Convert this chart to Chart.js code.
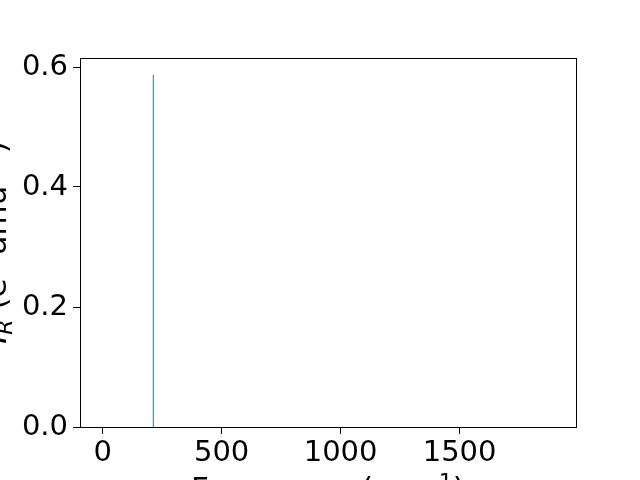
<!DOCTYPE html>
<html>
<head>
<meta charset="utf-8">
<script src="https://cdn.jsdelivr.net/npm/chart.js@4/dist/chart.umd.min.js"></script>
<style>
  html, body { margin: 0; padding: 0; background: #fff; }
  #wrap { width: 640px; height: 480px; }
</style>
</head>
<body>
<div id="wrap"><canvas id="irChart" width="640" height="480"></canvas></div>
<script>
// IR spectrum - a single active mode
const frequencies = [213];      // cm^-1
const intensities = [0.587];    // e^2 amu^-1

const xTickValues = [0, 500, 1000, 1500];
const yTickValues = [0.0, 0.2, 0.4, 0.6];
const xRange = [-95, 1989];
const yRange = [0, 0.615];

const FONT = '"DejaVu Sans", sans-serif';
const lineColor = '#1f77b4';

// each mode drawn as a stem from 0 up to its intensity
const stems = [];
frequencies.forEach((f, i) => {
  stems.push({ x: f, y: 0 });
  stems.push({ x: f, y: intensities[i] });
  stems.push({ x: f, y: null });
});

// draw a label made of pieces (italic, sub/superscript)
function drawRich(ctx, parts, cx, baseY) {
  const setFont = p => {
    ctx.font = (p.italic ? 'italic ' : '') + (p.size || 31) + 'px ' + FONT;
  };
  let total = 0;
  parts.forEach(p => { setFont(p); total += ctx.measureText(p.t).width; });
  let x = cx - total / 2;
  parts.forEach(p => {
    setFont(p);
    ctx.fillText(p.t, x, baseY + (p.dy || 0));
    x += ctx.measureText(p.t).width;
  });
}

const labelsPlugin = {
  id: 'labelsAndFrame',
  afterDraw(chart) {
    const ctx = chart.ctx;
    const a = chart.chartArea;
    ctx.save();
    // axes frame
    ctx.strokeStyle = '#000';
    ctx.lineWidth = 1;
    ctx.strokeRect(Math.round(a.left) + 0.5, Math.round(a.top) + 0.5,
                   Math.round(a.right - a.left), Math.round(a.bottom - a.top));

    ctx.fillStyle = '#000';
    ctx.textAlign = 'left';
    ctx.textBaseline = 'alphabetic';

    // x axis label
    drawRich(ctx, [
      { t: 'Frequency (cm' },
      { t: '\u22121', size: 22, dy: -10 },
      { t: ')' }
    ], (a.left + a.right) / 2, 499);

    // y axis label, rotated
    ctx.translate(6, (a.top + a.bottom) / 2);
    ctx.rotate(-Math.PI / 2);
    drawRich(ctx, [
      { t: 'I', italic: true },
      { t: 'R', italic: true, size: 22, dy: 6 },
      { t: ' (e' },
      { t: '2', size: 22, dy: -10 },
      { t: ' amu' },
      { t: '\u22121', size: 22, dy: -10 },
      { t: ')' }
    ], 0, 0);
    ctx.restore();
  }
};

function fixedTicks(values) {
  return scale => { scale.ticks = values.map(v => ({ value: v })); };
}

new Chart(document.getElementById('irChart'), {
  type: 'scatter',
  data: {
    datasets: [{
      data: stems,
      showLine: true,
      spanGaps: false,
      borderColor: lineColor,
      borderWidth: 1,
      pointRadius: 0,
      pointHoverRadius: 0
    }]
  },
  options: {
    responsive: false,
    animation: false,
    layout: { padding: { left: 0, top: 58, right: 64, bottom: 0 } },
    plugins: {
      legend: { display: false },
      tooltip: { enabled: false }
    },
    scales: {
      x: {
        type: 'linear',
        min: xRange[0],
        max: xRange[1],
        afterBuildTicks: fixedTicks(xTickValues),
        afterFit: s => { s.height = 53; },
        ticks: {
          color: '#000',
          font: { family: FONT, size: 29 },
          padding: 2,
          maxRotation: 0,
          autoSkip: false,
          callback: v => String(v)
        },
        grid: { drawOnChartArea: false, drawTicks: true, tickLength: 7, color: '#000' },
        border: { display: false }
      },
      y: {
        type: 'linear',
        min: yRange[0],
        max: yRange[1],
        afterBuildTicks: fixedTicks(yTickValues),
        afterFit: s => { s.width = 80; },
        ticks: {
          color: '#000',
          font: { family: FONT, size: 29 },
          padding: 5,
          autoSkip: false,
          callback: v => v.toFixed(1)
        },
        grid: { drawOnChartArea: false, drawTicks: true, tickLength: 7, color: '#000' },
        border: { display: false }
      }
    }
  },
  plugins: [labelsPlugin]
});
</script>
</body>
</html>
